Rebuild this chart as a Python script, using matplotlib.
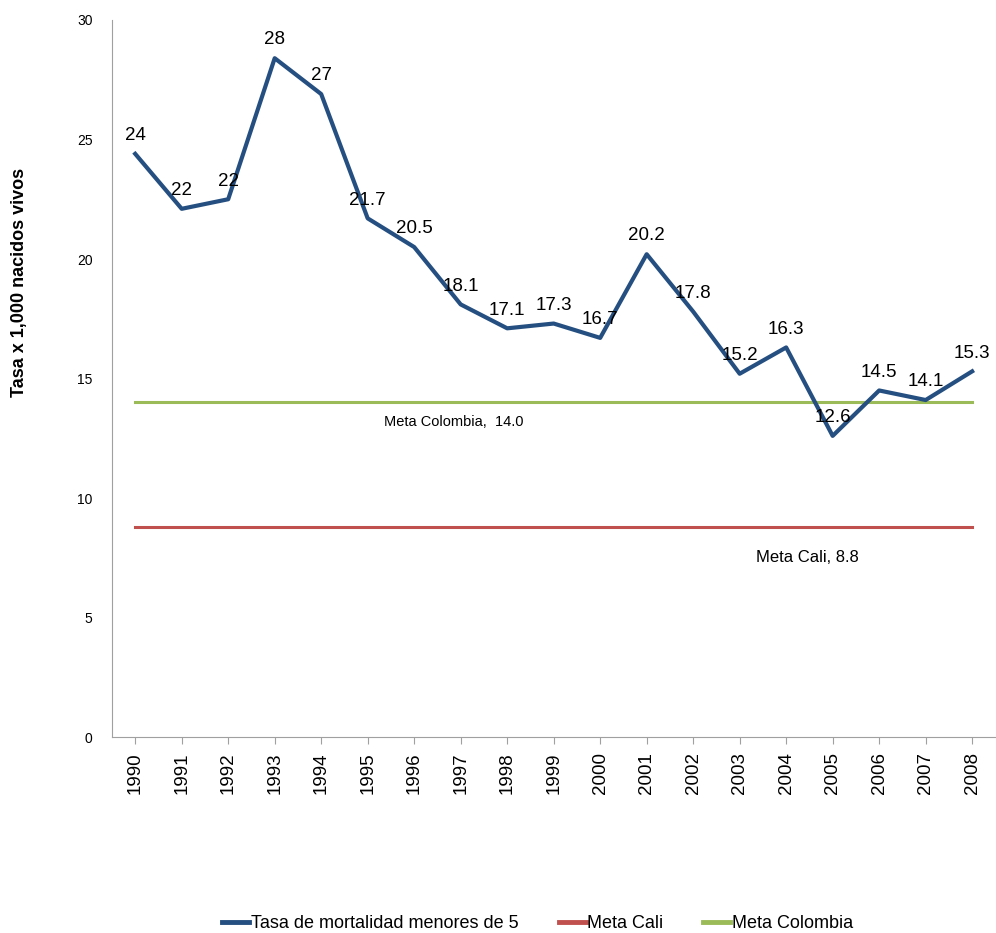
import matplotlib
matplotlib.use("Agg")
import matplotlib.pyplot as plt

plt.rcParams['font.family'] = ['Liberation Sans', 'DejaVu Sans']

# tasa de mortalidad en menores de 5 años, Cali
years = [str(y) for y in range(1990, 2009)]
tasa = [24.4, 22.1, 22.5, 28.4, 26.9, 21.7, 20.5, 18.1, 17.1, 17.3,
        16.7, 20.2, 17.8, 15.2, 16.3, 12.6, 14.5, 14.1, 15.3]
meta_cali = 8.8
meta_colombia = 14.0

blue = '#254F80'
red = '#C0504D'
green = '#9BBB59'

fig = plt.figure(figsize=(9.96, 9.33), dpi=100)
ax = fig.add_axes([0.1124, 0.21, 0.887, 0.7686])

x = list(range(len(years)))
ax.plot(x, tasa, color=blue, lw=3, label='Tasa de mortalidad menores de 5', zorder=3)
ax.plot([x[0], x[-1]], [meta_cali] * 2, color=red, lw=2.2, label='Meta Cali', zorder=2)
ax.plot([x[0], x[-1]], [meta_colombia] * 2, color=green, lw=2.2, label='Meta Colombia', zorder=2)

# the first years are shown as whole numbers
for i, v in enumerate(tasa):
    txt = f"{v:.0f}" if i < 5 else f"{v:.1f}"
    ax.annotate(txt, (i, v), xytext=(0, 7), textcoords='offset points',
                ha='center', va='bottom', fontsize=13.5, zorder=4)

ax.text(6.85, 13.2, f"Meta Colombia,  {meta_colombia:.1f}", ha='center', va='center', fontsize=10.5)
ax.text(14.45, 7.5, f"Meta Cali, {meta_cali}", ha='center', va='center', fontsize=12)

ax.set_xlim(-0.5, len(years) - 0.5)
ax.set_ylim(0, 30)
ax.set_yticks(range(0, 31, 5))
ax.set_xticks(x)
ax.set_xticklabels(years, rotation=90, fontsize=13.5)
ax.tick_params(axis='y', length=0, labelsize=10, pad=14)
ax.tick_params(axis='x', length=5, color='#A0A0A0', pad=6)
for side in ['top', 'right']:
    ax.spines[side].set_visible(False)
for side in ['left', 'bottom']:
    ax.spines[side].set_color('#A0A0A0')

fig.text(0.02, 0.697, 'Tasa x 1,000 nacidos vivos', rotation=90, ha='center', va='center',
         fontsize=13, fontweight='bold')

leg = fig.legend(loc='center', bbox_to_anchor=(0.54, 0.01), ncol=3, frameon=False,
                 fontsize=13, handlelength=1.5, handletextpad=0.1, columnspacing=2.2)
for line in leg.get_lines():
    line.set_linewidth(3.5)

fig.savefig('out.png', dpi=100)
